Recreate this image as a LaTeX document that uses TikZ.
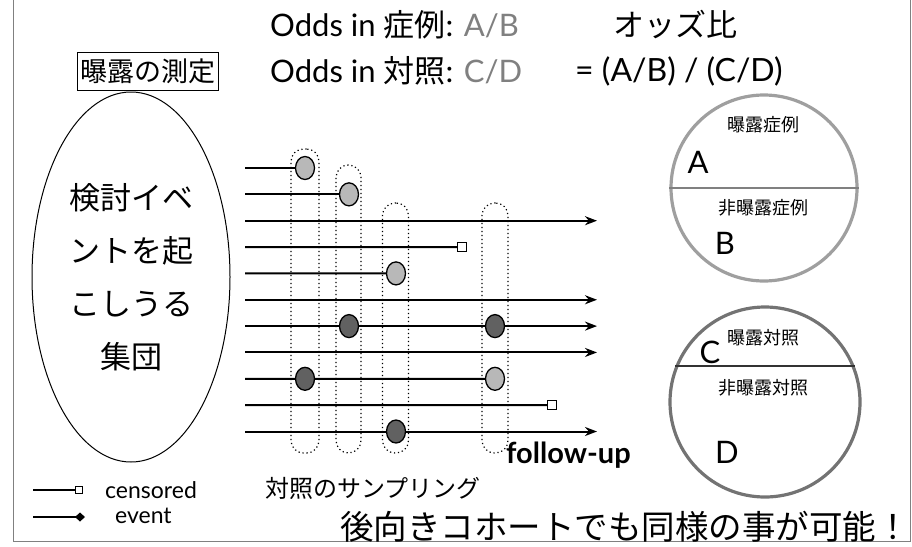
\documentclass[tikz,border=0pt]{standalone}
\usepackage{fontspec}
\setmainfont{Lato}
\newfontfamily\jp{Noto Sans CJK JP}
\usetikzlibrary{arrows.meta,shapes.geometric}
\definecolor{lightdot}{gray}{0.72}
\definecolor{darkdot}{gray}{0.38}
\definecolor{txtgray}{gray}{0.5}
\begin{document}
\begin{tikzpicture}[x=1pt,y=-1pt,
  fup/.style={line width=2pt},
  evarrow/.style={fup,-{Stealth[length=12pt,width=9pt]}},
  lightev/.style={ellipse,draw,line width=1.3pt,fill=lightdot,minimum width=19pt,minimum height=23pt,inner sep=0pt},
  darkev/.style={ellipse,draw,line width=1.3pt,fill=darkdot,minimum width=19pt,minimum height=23pt,inner sep=0pt},
  cens/.style={rectangle,draw,line width=1.3pt,fill=white,minimum size=9pt,inner sep=0pt},
  capsule/.style={draw,line width=1.2pt,dash pattern=on 1.2pt off 2.8pt,rounded corners=12.5pt,inner sep=0pt},
  head/.style={font=\fontsize{31}{33}\selectfont,anchor=west,inner sep=0pt},
  ctext/.style={font=\jp\fontsize{18}{20}\selectfont,inner sep=0pt},
  cletter/.style={font=\fontsize{31}{33}\selectfont,inner sep=0pt}
]
\useasboundingbox (0,0) rectangle (912,546);
% frame
\coordinate (f1) at (13,0); \coordinate (f2) at (13,541);
\coordinate (f3) at (910,541); \coordinate (f4) at (910,0);
\draw[line width=1pt,gray] (f1) -- (f2) -- (f3) -- (f4);

% header
\node[head] (oa) at (270,25) {Odds in {\jp 症例}: \textcolor{txtgray}{A/B}};
\node[head] (oc) at (270,71) {Odds in {\jp 対照}: \textcolor{txtgray}{C/D}};
\node[head,font=\fontsize{32}{34}\selectfont] (ratio) at (575,71) {= (A/B) / (C/D)};
\node[font=\jp\fontsize{31}{33}\selectfont,inner sep=0pt] (oz) at (675.5,25) {オッズ比};
\node[draw,line width=0.8pt,font=\jp\fontsize{27}{29}\selectfont,inner xsep=3pt,minimum height=38pt] (meas) at (148,71) {曝露の測定};

% population ellipse
\node[ellipse,draw,line width=1pt,minimum width=198pt,minimum height=370pt,inner sep=0pt,
      font=\jp\fontsize{31}{53}\selectfont,align=center] (pop) at (131,277) {検討イベ\\ントを起\\こしうる\\集団};

% sampling capsules
\node[capsule,minimum width=28pt,minimum height=304pt] (col1) at (305,301) {};
\node[capsule,minimum width=25pt,minimum height=288pt] (col2) at (348.5,309) {};
\node[capsule,minimum width=26pt,minimum height=250pt] (col3) at (395.5,328) {};
\node[capsule,minimum width=26pt,minimum height=250pt] (col4) at (495,328) {};

% follow-up lines
\foreach \i in {1,...,11}{
  \coordinate (s\i) at (245,{168+26.35*(\i-1)});
  \coordinate (e\i) at (597,{168+26.35*(\i-1)});
}
\node[lightev] (c1) at (305,168) {};
\node[lightev] (c2) at (349,194.35) {};
\node[cens] (q4) at (462,247.05) {};
\node[lightev] (c5) at (396,273.4) {};
\node[lightev] (c9b) at (495,378.8) {};
\node[cens] (q10) at (552,405.15) {};

\draw[fup] (s1) -- (c1);
\draw[fup] (s2) -- (c2);
\draw[evarrow] (s3) -- (e3);
\draw[fup] (s4) -- (q4);
\draw[fup] (s5) -- (c5);
\draw[evarrow] (s6) -- (e6);
\draw[evarrow] (s7) -- (e7);
\draw[evarrow] (s8) -- (e8);
\draw[fup] (s9) -- (c9b);
\draw[fup] (s10) -- (q10);
\draw[evarrow] (s11) -- (e11);

\node[darkev] (c7a) at (349,326.1) {};
\node[darkev] (c7b) at (495,326.1) {};
\node[darkev] (c9a) at (305,378.8) {};
\node[darkev] (c11) at (396,431.5) {};

\node[font=\bfseries\fontsize{29}{31}\selectfont,anchor=west,inner sep=0pt] (fu) at (506,455) {follow-up};
\node[font=\jp\fontsize{24}{26}\selectfont,anchor=west,inner sep=0pt] (samp) at (265,488) {対照のサンプリング};
\node[font=\jp\fontsize{33.5}{35}\selectfont,anchor=west,inner sep=0pt] (retro) at (340,527) {後向きコホートでも同様の事が可能！};

% legend
\coordinate (l1a) at (33,490);
\node[rectangle,draw,line width=1.2pt,fill=white,minimum size=7pt,inner sep=0pt] (l1b) at (79,490) {};
\draw[line width=1.6pt] (l1a) -- (l1b);
\node[font=\fontsize{23}{25}\selectfont,anchor=west,inner sep=0pt] (lt1) at (105,490) {censored};
\coordinate (l2a) at (33,517);
\coordinate (l2b) at (85,517);
\draw[line width=1.6pt,-{Diamond[length=10pt,width=9pt]}] (l2a) -- (l2b);
\node[font=\fontsize{23}{25}\selectfont,anchor=west,inner sep=0pt] (lt2) at (115,516) {event};

% case circle
\node[circle,draw=gray!75,line width=3.2pt,minimum size=186pt,inner sep=0pt] (cA) at (764,188) {};
\draw[gray,line width=1.3pt] (cA.west) -- (cA.east);
\node[ctext] (tA1) at (763,125) {曝露症例};
\node[cletter] (tA) at (698,162) {A};
\node[ctext] (tB1) at (763,208) {非曝露症例};
\node[cletter] (tB) at (725,243) {B};

% control circle
\node[circle,draw=gray!90!black,line width=3.2pt,minimum size=190pt,inner sep=0pt] (cC) at (765,402) {};
\draw[black!80,line width=1.8pt] (cC.158) -- (cC.22);
\node[ctext] (tC1) at (763,338) {曝露対照};
\node[cletter] (tC) at (710,352) {C};
\node[ctext] (tD1) at (763,388) {非曝露対照};
\node[cletter] (tD) at (727,452) {D};
\end{tikzpicture}
\end{document}
